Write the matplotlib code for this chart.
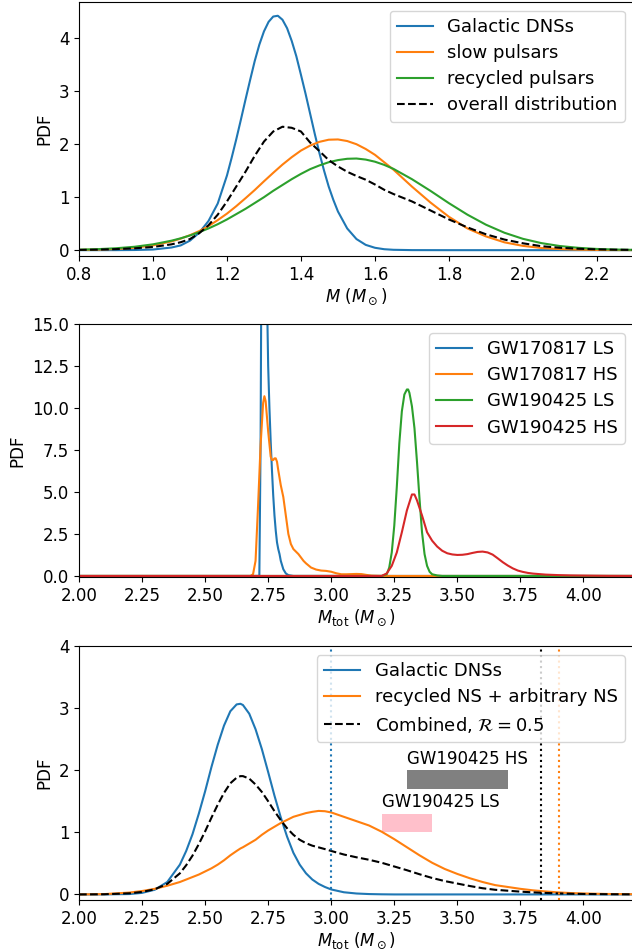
import matplotlib
matplotlib.use('Agg')
import matplotlib.pyplot as plt

plt.rcParams['font.size'] = 12

# ---- panel 1: single NS mass distributions ----
m_grid = [0.8, 0.85, 0.9, 0.95, 1.0, 1.05, 1.075, 1.1, 1.125, 1.15, 1.175, 1.2, 1.225, 1.25,
          1.275, 1.3, 1.325, 1.35, 1.375, 1.4, 1.425, 1.45, 1.475, 1.5, 1.525, 1.55, 1.575,
          1.6, 1.625, 1.65, 1.7, 1.75, 1.8, 1.85, 1.9, 1.95, 2.0, 2.05, 2.1, 2.15, 2.2, 2.25, 2.3]
m_dns = [0.8, 0.9, 0.95, 1.0, 1.05, 1.075, 1.1, 1.125, 1.15, 1.175, 1.2, 1.2125, 1.225, 1.2375,
         1.25, 1.2625, 1.275, 1.2875, 1.3, 1.3125, 1.325, 1.3375, 1.35, 1.3625, 1.375, 1.3875,
         1.4, 1.4125, 1.425, 1.4375, 1.45, 1.4625, 1.475, 1.4875, 1.5, 1.525, 1.55, 1.575, 1.6,
         1.625, 1.65, 1.7, 1.8, 2.3]
pdf_dns = [0.0, 0.0005, 0.003, 0.012, 0.05, 0.09, 0.18, 0.33, 0.55, 0.88, 1.41, 1.74, 2.09, 2.46,
           2.84, 3.21, 3.57, 3.88, 4.13, 4.31, 4.41, 4.425, 4.35, 4.19, 3.95, 3.66,
           3.31, 2.95, 2.57, 2.19, 1.83, 1.50, 1.20, 0.95, 0.73, 0.41, 0.21, 0.10, 0.045,
           0.018, 0.007, 0.001, 0.0, 0.0]
pdf_slow = [0.004, 0.01, 0.022, 0.046, 0.09, 0.165, 0.218, 0.283, 0.36, 0.455, 0.567, 0.69, 0.83, 0.98,
            1.135, 1.30, 1.46, 1.615, 1.755, 1.88, 1.975, 2.045, 2.085, 2.09, 2.06, 2.00, 1.91,
            1.80, 1.66, 1.52, 1.20, 0.90, 0.63, 0.41, 0.26, 0.148, 0.081, 0.041, 0.020, 0.009, 0.004, 0.002, 0.001]
pdf_recyc = [0.010, 0.019, 0.036, 0.064, 0.11, 0.179, 0.224, 0.277, 0.34, 0.41, 0.49, 0.58, 0.68, 0.78,
             0.89, 1.00, 1.12, 1.23, 1.34, 1.44, 1.53, 1.60, 1.66, 1.70, 1.725, 1.73, 1.71,
             1.67, 1.61, 1.535, 1.34, 1.12, 0.887, 0.67, 0.481, 0.329, 0.214, 0.133, 0.078, 0.044, 0.023, 0.012, 0.006]
pdf_all = [0.005, 0.01, 0.02, 0.035, 0.06, 0.11, 0.15, 0.21, 0.32, 0.47, 0.67, 0.92, 1.2, 1.48,
           1.78, 2.05, 2.24, 2.33, 2.31, 2.24, 2.03, 1.87, 1.70, 1.58, 1.48, 1.40, 1.33,
           1.24, 1.14, 1.06, 0.92, 0.75, 0.58, 0.43, 0.30, 0.2, 0.13, 0.075, 0.045, 0.027, 0.015, 0.009, 0.005]

# ---- panel 2: GW total mass posteriors ----
x_170817_ls = [2.0, 2.715, 2.72, 2.725, 2.73, 2.735, 2.74, 2.745, 2.75, 2.755, 2.76, 2.765, 2.77,
               2.775, 2.78, 2.785, 2.79, 2.795, 2.8, 2.81, 2.82, 2.83, 2.85, 4.2]
y_170817_ls = [0, 0, 8, 25, 38, 40, 30, 17, 12.5, 10, 8.0, 6.3, 4.8,
               3.6, 2.7, 2.0, 1.6, 1.3, 0.9, 0.4, 0.15, 0.05, 0, 0]
x_170817_hs = [2.0, 2.68, 2.69, 2.7, 2.71, 2.72, 2.73, 2.735, 2.74, 2.75, 2.76, 2.765, 2.77, 2.775,
               2.78, 2.785, 2.79, 2.8, 2.81, 2.82, 2.83, 2.84, 2.85, 2.86, 2.87, 2.88, 2.89, 2.9,
               2.92, 2.94, 2.96, 2.98, 3.0, 3.02, 3.04, 3.06, 3.08, 3.1, 3.12, 3.14, 3.16, 3.2, 4.2]
y_170817_hs = [0, 0, 0.1, 0.9, 4.2, 7.8, 10.3, 10.7, 10.4, 8.6, 7.1, 6.9, 6.9, 7.0,
               7.0, 6.8, 6.3, 5.4, 4.7, 3.6, 2.5, 1.9, 1.6, 1.45, 1.3, 1.1, 0.9, 0.75,
               0.5, 0.38, 0.32, 0.3, 0.25, 0.16, 0.1, 0.1, 0.11, 0.12, 0.11, 0.06, 0.02, 0, 0]
x_190425_ls = [2.0, 3.2, 3.22, 3.23, 3.24, 3.25, 3.26, 3.27, 3.28, 3.29, 3.3, 3.305, 3.31, 3.32,
               3.33, 3.34, 3.35, 3.36, 3.37, 3.38, 3.39, 3.4, 3.42, 3.44, 4.2]
y_190425_ls = [0, 0, 0.1, 0.5, 1.4, 3.0, 5.3, 7.9, 9.8, 10.8, 11.1, 11.1, 10.9, 10.1,
               8.8, 6.8, 4.6, 2.6, 1.3, 0.6, 0.25, 0.1, 0.03, 0, 0]
x_190425_hs = [2.0, 3.2, 3.22, 3.24, 3.26, 3.28, 3.3, 3.32, 3.33, 3.34, 3.36, 3.38, 3.4, 3.42,
               3.44, 3.46, 3.48, 3.5, 3.52, 3.54, 3.56, 3.58, 3.6, 3.62, 3.64, 3.66, 3.68, 3.7,
               3.72, 3.74, 3.76, 3.78, 3.8, 3.85, 3.9, 3.95, 4.0, 4.1, 4.2]
y_190425_hs = [0, 0, 0.15, 0.6, 1.4, 2.6, 3.9, 4.85, 4.85, 4.5, 3.6, 2.6, 2.1, 1.75,
               1.5, 1.35, 1.28, 1.25, 1.26, 1.3, 1.37, 1.43, 1.45, 1.4, 1.27, 1.05, 0.82, 0.62,
               0.45, 0.32, 0.24, 0.18, 0.14, 0.08, 0.05, 0.03, 0.02, 0.005, 0]

# ---- panel 3: predicted total mass of BNS ----
mt_grid = [2.0, 2.1, 2.2, 2.25, 2.3, 2.35, 2.4, 2.425, 2.45, 2.475, 2.5, 2.525, 2.55, 2.575, 2.6,
           2.625, 2.64, 2.65, 2.675, 2.7, 2.725, 2.75, 2.775, 2.8, 2.825, 2.85, 2.875, 2.9, 2.925,
           2.95, 2.975, 3.0, 3.05, 3.1, 3.15, 3.2, 3.25, 3.3, 3.35, 3.4, 3.45, 3.5, 3.55, 3.6, 3.65,
           3.7, 3.75, 3.8, 3.85, 3.9, 3.95, 4.0, 4.1, 4.2]
pdf_tot_dns = [0.0, 0.0003, 0.006, 0.025, 0.075, 0.2, 0.48, 0.7, 0.97, 1.3, 1.66, 2.05, 2.41, 2.72, 2.95,
               3.06, 3.07, 3.05, 2.91, 2.66, 2.34, 1.97, 1.59, 1.24, 0.93, 0.67, 0.48, 0.34, 0.24,
               0.17, 0.12, 0.08, 0.035, 0.015, 0.006, 0.002, 0.0, 0.0, 0.0, 0.0, 0.0, 0.0, 0.0, 0.0, 0.0,
               0.0, 0.0, 0.0, 0.0, 0.0, 0.0, 0.0, 0.0, 0.0]
pdf_tot_rec = [0.0, 0.005, 0.03, 0.055, 0.09, 0.14, 0.2, 0.24, 0.28, 0.32, 0.37, 0.42, 0.48, 0.55, 0.63,
               0.70, 0.74, 0.76, 0.82, 0.88, 0.96, 1.03, 1.09, 1.15, 1.20, 1.25, 1.28, 1.31, 1.33,
               1.345, 1.34, 1.32, 1.25, 1.18, 1.11, 1.01, 0.89, 0.76, 0.63, 0.51, 0.41, 0.33, 0.26, 0.20, 0.15,
               0.12, 0.09, 0.066, 0.048, 0.033, 0.022, 0.015, 0.007, 0.003]
pdf_tot_comb = [0.0, 0.003, 0.018, 0.04, 0.083, 0.17, 0.34, 0.47, 0.625, 0.81, 1.015, 1.235, 1.445, 1.635, 1.79,
                1.88, 1.905, 1.905, 1.865, 1.77, 1.65, 1.50, 1.34, 1.195, 1.065, 0.96, 0.88, 0.825, 0.785,
                0.758, 0.73, 0.70, 0.643, 0.598, 0.558, 0.51, 0.45, 0.39, 0.325, 0.265, 0.215, 0.175, 0.135, 0.10, 0.075,
                0.06, 0.045, 0.033, 0.024, 0.0165, 0.011, 0.0075, 0.0035, 0.0015]
vline_x = [3.0, 3.83, 3.905]
vline_col = ['C0', 'k', 'C1']
hs_x = [3.3, 3.7]
hs_y = [1.7, 2.0]
ls_x = [3.2, 3.4]
ls_y = [1.0, 1.3]

mt_ticks = [2.0, 2.25, 2.5, 2.75, 3.0, 3.25, 3.5, 3.75, 4.0]
mt_ticklabels = ['2.00', '2.25', '2.50', '2.75', '3.00', '3.25', '3.50', '3.75', '4.00']

leg_kw = dict(loc='upper right', fontsize=13, labelspacing=0.45)

fig = plt.figure(figsize=(6.32, 9.52), dpi=100)

# panel 1
ax1 = fig.add_axes([0.125, 0.7311, 0.878, 0.2671])
ax1.plot(m_dns, pdf_dns, label='Galactic DNSs')
ax1.plot(m_grid, pdf_slow, label='slow pulsars')
ax1.plot(m_grid, pdf_recyc, label='recycled pulsars')
ax1.plot(m_grid, pdf_all, 'k--', label='overall distribution')
ax1.set_xlim(0.8, 2.3)
ax1.set_ylim(-0.11, 4.69)
ax1.set_xticks([0.8, 1.0, 1.2, 1.4, 1.6, 1.8, 2.0, 2.2])
ax1.set_yticks([0, 1, 2, 3, 4])
ax1.set_xlabel(r'$M$ ($M_\odot$)', labelpad=2)
ax1.set_ylabel('PDF')
ax1.legend(**leg_kw)

# panel 2
ax2 = fig.add_axes([0.125, 0.3936, 0.878, 0.2661])
ax2.plot(x_170817_ls, y_170817_ls, label='GW170817 LS')
ax2.plot(x_170817_hs, y_170817_hs, label='GW170817 HS')
ax2.plot(x_190425_ls, y_190425_ls, label='GW190425 LS')
ax2.plot(x_190425_hs, y_190425_hs, label='GW190425 HS')
ax2.set_xlim(2.0, 4.2)
ax2.set_ylim(-0.08, 15)
ax2.set_xticks(mt_ticks)
ax2.set_xticklabels(mt_ticklabels)
ax2.set_yticks([0, 2.5, 5, 7.5, 10, 12.5, 15])
ax2.set_yticklabels(['0.0', '2.5', '5.0', '7.5', '10.0', '12.5', '15.0'])
ax2.set_xlabel(r'$M_{\rm tot}$ ($M_\odot$)', labelpad=2)
ax2.set_ylabel('PDF')
ax2.legend(**leg_kw)

# panel 3
ax3 = fig.add_axes([0.125, 0.0546, 0.878, 0.2668])
ax3.plot(mt_grid, pdf_tot_dns, label='Galactic DNSs')
ax3.plot(mt_grid, pdf_tot_rec, label='recycled NS + arbitrary NS')
ax3.plot(mt_grid, pdf_tot_comb, 'k--', label=r'Combined, $\mathcal{R}=0.5$')
for xv, cc in zip(vline_x, vline_col):
    ax3.axvline(xv, color=cc, ls=':')
ax3.fill_between(hs_x, hs_y[0], hs_y[1], color='grey', lw=0)
ax3.fill_between(ls_x, ls_y[0], ls_y[1], color='pink', lw=0)
ax3.text(hs_x[0], hs_y[1] + 0.1, 'GW190425 HS')
ax3.text(ls_x[0], ls_y[1] + 0.1, 'GW190425 LS')
ax3.set_xlim(2.0, 4.2)
ax3.set_ylim(-0.09, 4)
ax3.set_xticks(mt_ticks)
ax3.set_xticklabels(mt_ticklabels)
ax3.set_yticks([0, 1, 2, 3, 4])
ax3.set_xlabel(r'$M_{\rm tot}$ ($M_\odot$)', labelpad=2)
ax3.set_ylabel('PDF')
ax3.legend(**leg_kw)

fig.savefig('out.png', dpi=100)
